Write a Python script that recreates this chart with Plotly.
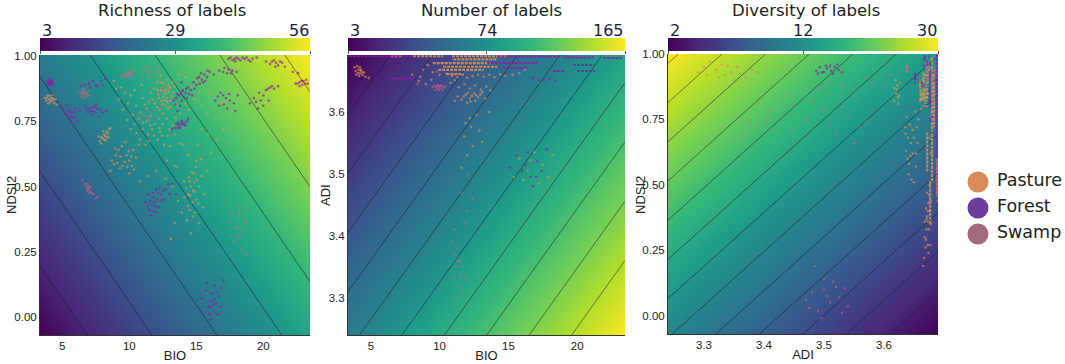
import plotly.graph_objects as go

W, H = 1065, 364

bio_edges = [3.34, 23.48]
ndsi_edges = [-0.07, 1.005]
adi_edges = [3.24, 3.692]
adi_x_edges = [3.24, 3.69]
ndsi3_edges = [-0.07, 1.0]

richness_z = [[3, 34], [25, 56]]
number_z = [[71, 165], [3, 97]]
diversity_z = [[15, 2], [30, 17]]

cbar_ticks = [[3, 29.5, 56], [3, 84, 165], [2, 16, 30]]
cbar_labels = [["3", "29", "56"], ["3", "74", "165"], ["2", "12", "30"]]
titles = ["Richness of labels", "Number of labels", "Diversity of labels"]
legend_names = ["Pasture", "Forest", "Swamp"]
legend_rows = [3, 2, 1]

# ---------- Panel 1: BIO / NDSI2 ----------
p1_pasture = [
 (3.7,.84),(3.8,.83),(3.9,.85),(4.0,.835),(4.1,.825),(4.2,.84),(4.3,.83),(4.4,.82),(4.5,.835),(4.6,.815),(3.95,.82),(4.25,.85),(3.85,.842),(4.05,.848),(4.15,.832),(4.35,.838),
 (7.8,.675),(7.9,.69),(8.0,.685),(8.1,.70),(8.2,.695),(8.3,.71),(8.4,.705),(8.5,.72),(8.6,.725),(8.1,.68),(8.3,.69),(7.9,.665),(8.25,.678),(8.45,.688),(8.05,.712),(7.7,.692),
 (9.4,.88),(9.7,.86),(10.1,.85),(10.4,.87),(10.9,.89),(9.9,.82),(10.5,.81),(11.0,.84),(11.3,.80),(11.6,.86),(11.9,.82),(12.1,.87),(12.4,.90),(12.2,.84),(12.6,.86),(12.8,.84),(13.0,.88),(12.7,.81),(13.1,.83),(13.3,.86),(12.5,.78),(12.9,.80),(12.9,.89),(12.4,.83),(12.7,.87),(13.2,.90),(12.1,.90),
 (12.35,.87),(12.55,.845),(12.75,.855),(12.95,.865),(13.15,.845),(12.45,.815),(12.65,.83),(12.85,.825),(13.05,.805),(12.25,.795),(12.05,.805),(11.75,.835),(11.45,.825),(11.15,.815),(12.15,.855),(11.85,.875),(12.55,.895),(12.85,.91),(12.35,.925),(13.35,.885),(13.55,.815),(13.45,.765),
 (11.3,.75),(11.6,.77),(11.9,.74),(12.2,.76),(12.5,.74),(12.8,.76),(13.0,.72),(11.0,.72),(11.4,.70),(11.7,.72),(12.1,.68),(12.3,.71),(10.7,.76),(10.4,.74),(10.1,.72),(10.8,.68),(11.2,.66),(12.6,.66),(13.4,.70),(13.8,.78),(14.2,.82),(14.6,.88),(15.0,.91),(14.2,.92),(15.2,.86),(13.7,.93),
 (11.55,.735),(11.85,.695),(12.25,.725),(11.05,.745),(10.55,.705),(10.85,.785),(10.25,.775),(9.85,.755),(9.55,.795),(9.25,.835),(9.05,.875),(8.85,.905),(11.45,.675),(12.45,.695),(12.85,.695),(13.25,.735),(13.05,.655),(13.75,.665),(14.05,.725),(14.45,.795),(14.85,.835),(15.45,.815),
 (8.7,.60),(9.0,.62),(9.2,.64),(9.5,.58),(9.8,.62),(10.0,.60),(10.3,.64),(10.2,.58),(10.5,.61),(10.7,.66),(9.7,.67),(9.3,.57),(10.0,.55),(8.6,.56),(9.1,.59),
 (9.35,.615),(9.65,.595),(9.95,.635),(10.15,.615),(9.45,.655),(8.95,.645),(9.85,.575),(10.35,.565),(8.85,.585),
 (12.8,.60),(13.4,.58),(14.5,.52),(14.8,.55),(14.4,.47),(14.6,.50),(14.9,.48),(15.2,.50),(14.7,.44),(15.0,.45),(14.1,.46),(14.5,.41),(14.9,.40),(15.4,.54),(15.6,.47),(14.1,.52),(13.9,.40),(14.3,.37),(14.6,.32),(13.4,.36),(13.1,.30),(15.5,.42),(15.2,.36),(15.8,.56),(15.0,.60),(16.1,.63),(16.5,.68),(17.0,.72),(16.4,.76),
 (14.55,.465),(14.75,.485),(14.85,.515),(14.45,.535),(14.65,.555),(15.05,.525),(14.25,.495),(15.15,.435),(14.35,.425),(14.75,.385),(13.65,.445),(13.55,.575),(14.95,.575),(15.35,.605),
 (14.0,.66),(15.4,.72),(13.2,.50),(12.7,.53),(12.0,.56),(11.4,.54),(10.8,.52),(15.9,.70),(15.1,.66),(14.4,.62),(16.9,.82),(16.0,.86),(15.8,.78),
]
p1_forest = [
 (4.0,.905),(4.2,.905),(4.1,.895),(4.0,.89),(4.3,.895),(4.2,.89),(3.9,.90),(4.15,.90),(4.05,.912),(4.1,.905),(4.25,.90),(4.05,.90),(3.95,.895),
 (6.4,.885),(6.7,.89),(7.1,.88),(7.3,.905),(7.6,.885),(7.9,.905),(8.2,.915),(7.5,.89),(7.0,.895),(8.0,.89),
 (5.0,.80),(5.3,.81),(5.5,.79),(5.7,.77),(5.4,.775),(5.9,.765),(6.1,.75),(5.6,.755),(6.3,.79),(5.2,.78),(6.0,.80),(5.8,.74),(5.45,.795),(5.65,.785),(5.85,.785),(5.55,.765),
 (6.7,.81),(7.0,.80),(7.3,.79),(7.6,.80),(8.0,.785),(7.2,.775),(7.7,.77),(8.3,.79),(6.9,.785),(7.5,.815),(7.1,.79),(7.4,.805),(6.85,.80),(7.25,.805),(7.45,.785),(7.85,.795),
 (13.2,.72),(13.5,.74),(13.7,.735),(13.9,.75),(14.1,.745),(14.4,.76),(13.8,.725),(14.0,.74),(14.3,.75),(13.6,.725),(13.85,.74),(14.15,.735),(13.4,.725),(13.65,.745),
 (13.3,.83),(13.5,.84),(13.7,.85),(13.9,.83),(14.0,.87),(14.2,.86),(14.4,.88),(14.6,.87),(14.8,.90),(15.0,.89),(15.2,.92),(15.4,.91),(15.6,.93),(15.8,.92),(16.0,.94),(16.3,.93),(14.7,.85),(13.8,.81),(14.3,.84),(15.5,.90),(13.6,.79),(13.9,.90),
 (13.55,.855),(13.85,.855),(14.05,.845),(14.25,.875),(14.45,.855),(15.05,.915),(15.25,.895),(15.35,.935),(15.65,.905),(15.85,.945),(14.85,.875),(13.45,.815),(13.95,.865),
 (16.7,.945),(17.0,.94),(17.4,.95),(17.7,.945),(17.1,.955),(18.0,.94),(17.6,.935),(17.3,.935),
 (16.4,.83),(16.7,.81),(17.0,.85),(17.3,.80),(17.5,.83),(17.8,.82),(17.9,.79),(17.2,.84),(16.8,.86),(18.1,.85),(16.6,.845),(17.05,.815),(17.45,.855),
 (19.0,.82),(19.3,.84),(19.6,.80),(19.8,.83),(20.0,.85),(20.2,.87),(20.5,.88),(20.8,.875),(21.1,.885),(20.0,.81),(19.7,.86),(20.4,.83),(19.45,.825),(20.65,.885),(20.35,.875),
 (17.4,.99),(17.7,.985),(18.0,.995),(18.3,.985),(18.6,.99),(18.9,.985),(19.2,.99),(19.5,.995),(17.9,.98),(17.55,.995),(17.85,.99),(18.15,.99),(18.45,.995),(18.75,.995),(19.05,.98),
 (20.2,.98),(20.5,.97),(20.8,.985),(21.1,.965),(21.4,.975),(20.9,.96),(21.6,.96),(22.2,.94),(22.6,.935),(20.65,.98),(20.95,.975),(21.25,.98),
 (22.4,.895),(22.7,.90),(23.0,.905),(23.2,.91),(22.9,.89),(23.3,.895),(22.7,.885),(22.55,.895),(22.85,.905),(23.1,.895),
 (11.2,.44),(11.4,.47),(11.5,.41),(11.7,.43),(11.8,.46),(12.0,.49),(12.1,.45),(12.2,.42),(12.4,.47),(12.6,.45),(12.7,.49),(13.0,.47),(13.2,.51),(13.5,.47),(11.6,.39),(12.0,.40),(11.9,.44),(12.9,.51),
 (11.55,.445),(11.75,.475),(11.95,.425),(12.15,.475),(11.85,.405),(12.35,.445),(12.25,.495),(11.35,.425),(12.55,.485),
 (15.4,.07),(15.7,.10),(15.9,.04),(16.1,.06),(16.2,.09),(16.3,.02),(16.4,.12),(16.5,.05),(16.7,.08),(16.9,.11),(16.6,.01),(16.8,.04),(15.8,.13),(16.0,.01),(17.0,.14),(16.1,-.01),(15.5,.01),(16.05,.035),(16.35,.065),(16.55,.095),(16.25,.045),
]
p1_swamp = [
 (9.4,.925),(9.6,.93),(9.8,.925),(10.0,.935),(10.2,.93),(10.3,.945),(10.1,.925),(9.7,.92),(9.9,.93),(10.4,.95),(10.0,.945),(9.55,.92),(9.75,.935),(9.95,.92),(10.15,.94),(9.85,.94),
 (6.2,.865),(6.4,.86),(6.5,.85),(6.6,.87),(6.7,.855),(6.8,.845),(6.9,.865),(7.0,.85),(6.6,.84),(6.5,.875),(6.45,.845),(6.65,.86),(6.85,.855),(6.55,.86),
 (6.5,.525),(6.7,.51),(6.8,.50),(6.9,.49),(7.0,.495),(7.1,.48),(7.2,.475),(7.3,.47),(7.5,.455),(7.6,.46),(6.9,.51),(7.1,.50),(7.0,.475),(6.85,.485),(6.95,.50),(7.05,.485),
 (11.0,.93),(11.3,.96),(11.5,.92),(11.8,.94),(12.2,.95),(11.6,.955),(12.0,.925),(11.15,.945),(11.4,.935),(12.05,.96),
 (10.8,.77),(11.0,.75),(11.2,.77),(11.4,.76),(11.6,.78),(11.9,.79),(12.1,.77),(11.3,.79),(11.05,.775),(11.5,.755),
 (12.2,.85),(12.5,.87),(12.8,.86),(13.0,.84),(12.6,.82),(12.3,.80),(12.45,.88),(12.7,.885),(12.95,.875),
 (17.4,.36),(17.6,.31),(17.7,.40),(17.9,.34),(18.0,.30),(18.1,.38),(18.2,.42),(18.3,.31),(18.4,.26),(18.6,.36),(18.7,.24),(18.8,.41),(17.8,.29),(18.5,.33),(18.05,.345),(18.25,.395),
 (15.6,.62),
]

# ---------- Panel 2: BIO / ADI ----------
p2_pasture = [
 (3.8,3.672),(3.9,3.666),(4.0,3.674),(4.1,3.668),(4.2,3.662),(4.3,3.668),(4.4,3.660),(4.5,3.664),(4.6,3.657),(4.85,3.655),(4.2,3.672),(3.95,3.66),(4.05,3.663),(4.25,3.667),(4.35,3.664),(4.15,3.658),
 (9.5,3.664),(10.0,3.660),(10.5,3.662),(10.9,3.658),(11.3,3.656),(11.7,3.660),(12.0,3.655),(12.4,3.658),(12.8,3.660),(13.2,3.657),(13.6,3.660),(14.0,3.656),(14.4,3.661),(14.8,3.658),(15.3,3.660),(15.8,3.663),(16.2,3.668),
 (8.0,3.660),(8.5,3.650),(9.0,3.645),(9.4,3.652),(11.4,3.640),(11.8,3.645),(12.2,3.638),(12.6,3.643),(13.0,3.636),(13.4,3.641),(13.7,3.635),(8.8,3.668),(9.1,3.676),(8.6,3.657),(10.8,3.647),(11.1,3.651),
 (11.3,3.625),(11.6,3.620),(11.9,3.628),(12.2,3.622),(12.5,3.630),(12.8,3.624),(13.1,3.632),(13.3,3.622),(12.0,3.615),(12.6,3.618),(11.1,3.618),(11.75,3.625),(12.05,3.631),(12.35,3.626),(12.65,3.627),(12.95,3.628),(12.25,3.617),
 (13.6,3.600),(12.2,3.590),(12.9,3.570),(11.8,3.560),(12.4,3.545),(12.0,3.530),(11.6,3.510),(12.7,3.595),(12.3,3.576),(11.9,3.582),(13.1,3.552),
 (15.8,3.525),(16.4,3.505),(16.9,3.535),(17.5,3.515),(17.9,3.495),(15.4,3.495),(16.1,3.490),(17.2,3.485),(16.6,3.522),(18.2,3.530),
]
p2_forest = [
 (16.8,3.655),(17.2,3.652),(17.6,3.652),(18.0,3.654),(18.4,3.651),
 (15.6,3.530),(16.2,3.515),(16.6,3.495),(17.1,3.520),(17.4,3.505),(17.8,3.540),(15.1,3.510),(16.8,3.480),(16.0,3.505),(17.0,3.495),(16.4,3.535),
]
p2_swamp = [
 (9.5,3.640),(9.7,3.635),(9.9,3.642),(10.0,3.638),(10.2,3.636),(10.4,3.641),(9.8,3.638),(10.1,3.643),(9.6,3.642),(9.75,3.641),(9.95,3.636),(10.25,3.64),(10.05,3.641),(9.85,3.644),
 (10.9,3.390),(11.1,3.370),(11.3,3.380),(11.5,3.360),(11.2,3.350),(11.4,3.340),(11.7,3.350),(11.0,3.330),(11.4,3.320),(11.6,3.310),(11.9,3.330),(11.2,3.300),(11.35,3.36),(11.55,3.335),
 (11.6,3.47),(12.1,3.50),(12.4,3.46),(12.0,3.44),(11.8,3.42),(11.1,3.41),
 (9.8,3.665),(9.2,3.675),(8.4,3.645),
]
# dense stripes, read as (ADI, from BIO, to BIO)
p2_pasture_bands = [
 (3.690,6.4,7.3),(3.690,8.07,10.25),(3.690,10.9,14.9),(3.685,11.0,14.2),
 (3.679,9.5,13.7),(3.673,10.25,14.2),(3.668,9.9,13.2),(3.661,10.5,11.7),
]
p2_forest_bands = [
 (3.690,3.4,8.0),(3.689,14.2,18.8),(3.688,19.0,21.2),(3.687,21.9,23.3),
 (3.679,13.45,17.1),(3.671,14.6,16.4),(3.676,19.7,21.2),(3.666,18.25,19.1),(3.666,20.0,21.3),
 (3.654,6.5,8.2),
]

# ---------- Panel 3: ADI / NDSI2 ----------
p3_pasture = [
 (3.617,.82),(3.62,.85),(3.622,.88),(3.625,.84),(3.627,.89),(3.619,.90),(3.624,.81),(3.617,.87),(3.621,.865),(3.623,.835),
 (3.635,.72),(3.64,.68),(3.637,.63),(3.642,.58),(3.638,.76),(3.645,.66),(3.648,.71),(3.644,.61),(3.641,.54),(3.636,.695),(3.643,.73),(3.639,.60),(3.646,.52),
 (3.652,.78),(3.655,.72),(3.65,.68),(3.648,.62),(3.653,.57),(3.65,.51),(3.656,.66),(3.654,.62),(3.657,.75),
 (3.66,.88),(3.663,.85),(3.665,.83),(3.668,.86),(3.66,.82),(3.666,.80),(3.662,.79),(3.668,.83),(3.671,.80),(3.67,.88),(3.673,.85),(3.665,.90),(3.672,.92),(3.675,.94),(3.672,.89),(3.668,.92),
 (3.664,.84),(3.667,.845),(3.669,.815),(3.671,.835),(3.662,.825),
 (3.678,.44),(3.676,.40),(3.673,.36),(3.671,.33),(3.668,.30),(3.669,.26),(3.667,.22),(3.665,.19),(3.672,.38),(3.675,.33),(3.677,.27),(3.674,.24),(3.676,.50),(3.672,.47),(3.674,.43),(3.670,.41),(3.668,.36),(3.678,.62),(3.676,.68),(3.678,.76),
 (3.675,.46),(3.673,.40),(3.671,.37),(3.678,.35),(3.67,.29),(3.673,.27),
]
p3_forest = [
 (3.668,.98),(3.672,.97),(3.678,.96),(3.682,.93),(3.684,.90),(3.667,.88),(3.675,.86),(3.676,.82),(3.68,.76),(3.679,.70),
 (3.675,.99),(3.672,.96),(3.666,.955),
 (3.487,.935),(3.493,.95),(3.50,.93),(3.505,.945),(3.512,.935),(3.518,.95),(3.525,.94),(3.53,.93),(3.51,.955),(3.497,.93),(3.503,.955),(3.515,.925),(3.49,.925),(3.522,.96),
]
p3_swamp = [
 (3.688,.56),(3.688,.52),(3.688,.48),(3.688,.44),(3.684,.99),(3.686,.93),
 (3.29,.93),(3.30,.95),(3.32,.94),(3.33,.96),(3.345,.93),(3.355,.95),(3.37,.91),(3.38,.94),(3.35,.90),(3.325,.91),(3.39,.93),(3.31,.97),(3.34,.955),(3.36,.925),(3.335,.92),(3.305,.92),
 (3.36,.76),(3.375,.74),(3.39,.72),(3.41,.78),(3.43,.76),(3.45,.80),(3.47,.75),(3.42,.70),(3.39,.81),(3.365,.69),(3.48,.82),(3.50,.78),(3.52,.70),(3.54,.76),(3.56,.72),(3.58,.79),(3.55,.66),(3.405,.74),(3.445,.71),(3.44,.84),(3.53,.80),(3.57,.74),(3.51,.73),
 (3.49,.87),(3.51,.90),(3.53,.88),(3.55,.86),(3.58,.89),(3.60,.87),(3.61,.92),(3.50,.885),(3.57,.91),
 (3.47,.06),(3.485,.19),(3.49,.02),(3.50,.10),(3.51,.05),(3.515,.13),(3.525,.07),(3.53,.01),(3.50,.14),(3.52,.11),(3.495,-.01),(3.48,.09),(3.505,.075),(3.535,.105),(3.475,.03),(3.54,.035),
]
# dense streaks, read as (ADI, from NDSI2, to NDSI2)
p3_pasture_streaks = [
 (3.661,.895,.820),(3.666,.930,.820),(3.671,.870,.820),(3.680,.985,.516),(3.677,.516,.348),(3.672,.70,.55),(3.683,.94,.72),
]
p3_forest_streaks = [
 (3.652,.926,.888),(3.663,.895,.873),(3.677,.938,.792),(3.678,.765,.742),(3.688,1.0,.60),(3.668,.995,.975),
]
p3_swamp_streaks = [
 (3.638,.957,.926),(3.689,.60,.455),(3.672,.97,.89),
]

# ---------- styles ----------
COL = {"Pasture": "#ea9650", "Forest": "#8c1fa6", "Swamp": "#ea6080"}
LEG = ["#d98c5a", "#6b3d9c", "#a5697c"]
INK = "#1a1f3d"
AXIS_FONT = dict(family="Liberation Sans, Arial, sans-serif", size=11.5, color="#222")

panels = [
    dict(px=(40, 310), py=(55, 335), xr=bio_edges, yr=ndsi_edges, z=richness_z,
         lev=(8.4, 53.2, 7.45), pts=(p1_pasture, p1_forest, p1_swamp),
         xt="BIO", yt="NDSI2", xv=[5, 10, 15, 20], yv=[0, .25, .5, .75, 1],
         yf=".2f", ytx=11),
    dict(px=(348, 625), py=(55, 335), xr=bio_edges, yr=adi_edges, z=number_z,
         lev=(17.3, 160, 14.4), pts=(p2_pasture, p2_forest, p2_swamp),
         xt="BIO", yt="ADI", xv=[5, 10, 15, 20], yv=[3.3, 3.4, 3.5, 3.6],
         yf=".1f", ytx=325),
    dict(px=(668, 938), py=(54, 334), xr=adi_x_edges, yr=ndsi3_edges, z=diversity_z,
         lev=(2.2, 29.6, 2.1), pts=(p3_pasture, p3_forest, p3_swamp),
         xt="ADI", yt="NDSI2", xv=[3.3, 3.4, 3.5, 3.6], yv=[0, .25, .5, .75, 1],
         yf=".2f", ytx=640),
]
title_cx = [172, 491, 806]


def band_trace(rows, name, width, horizontal, xa, ya, op):
    xs, ys = [], []
    for v, a, b in rows:
        if horizontal:
            xs += [a, b, None]
            ys += [v, v, None]
        else:
            xs += [v, v, None]
            ys += [a, b, None]
    return go.Scatter(x=xs, y=ys, xaxis=xa, yaxis=ya, mode="lines", name=name,
                      showlegend=False, hoverinfo="skip", opacity=op,
                      line=dict(width=width, color=COL[name], dash="3px,1px"))


fig = go.Figure()
ann = []
layout = {}
for i, p in enumerate(panels):
    n = i + 1
    xa, ya = f"x{n}", f"y{n}"
    zmin, zmax = cbar_ticks[i][0], cbar_ticks[i][2]
    fig.add_trace(go.Heatmap(
        x=p["xr"], y=p["yr"], z=p["z"], xaxis=xa, yaxis=ya, zsmooth="best",
        colorscale="Viridis", zmin=zmin, zmax=zmax, hoverinfo="skip",
        colorbar=dict(
            orientation="h", x=p["px"][0] / W, xanchor="left", xpad=0,
            y=(H - 38) / H, yanchor="top", ypad=0, thickness=13,
            thicknessmode="pixels", len=p["px"][1] - p["px"][0], lenmode="pixels",
            outlinewidth=0, tickvals=cbar_ticks[i], ticktext=cbar_labels[i],
            showticklabels=False, ticks="outside", ticklen=3, tickcolor="#555",
            ticklabelposition="outside top",
        ),
    ))
    fig.add_trace(go.Contour(
        x=p["xr"], y=p["yr"], z=p["z"], xaxis=xa, yaxis=ya, showscale=False,
        autocontour=False, hoverinfo="skip",
        contours=dict(start=p["lev"][0], end=p["lev"][1], size=p["lev"][2],
                      coloring="lines", showlabels=False),
        line=dict(width=0.7, color="#1c1c2a"), colorscale=[[0, "#1c1c2a"], [1, "#1c1c2a"]],
        opacity=0.8,
    ))
    if i == 1:
        fig.add_trace(band_trace(p2_pasture_bands, "Pasture", 2.2, True, xa, ya, .8))
        fig.add_trace(band_trace(p2_forest_bands, "Forest", 2, True, xa, ya, .85))
    if i == 2:
        fig.add_trace(band_trace(p3_pasture_streaks, "Pasture", 2.2, False, xa, ya, .75))
        fig.add_trace(band_trace(p3_forest_streaks, "Forest", 2.2, False, xa, ya, .85))
        fig.add_trace(band_trace(p3_swamp_streaks, "Swamp", 3, False, xa, ya, .8))
    for name, pts, op in zip(legend_names, p["pts"], (0.6, 0.7, 0.45)):
        fig.add_trace(go.Scatter(
            x=[q[0] for q in pts], y=[q[1] for q in pts], xaxis=xa, yaxis=ya,
            mode="markers", name=name, showlegend=False, hoverinfo="skip",
            marker=dict(size=2.6, color=COL[name], opacity=op, line=dict(width=0)),
        ))
    layout[f"xaxis{n}"] = dict(
        domain=[p["px"][0] / W, p["px"][1] / W], range=p["xr"], anchor=ya,
        tickvals=p["xv"], showgrid=False, zeroline=False, showline=True,
        linecolor="#333", linewidth=1, ticks="", tickfont=AXIS_FONT,
        title=dict(text=p["xt"], font=dict(AXIS_FONT, size=13), standoff=0),
    )
    layout[f"yaxis{n}"] = dict(
        domain=[(H - p["py"][1]) / H, (H - p["py"][0]) / H], range=p["yr"], anchor=xa,
        tickvals=p["yv"], tickformat=p["yf"], showgrid=False, zeroline=False,
        showline=True, linecolor="#333", linewidth=1, ticks="", tickfont=AXIS_FONT,
    )
    ann.append(dict(text=p["yt"], x=p["ytx"] / W, y=(H - 195) / H, textangle=-90,
                    showarrow=False, xref="paper", yref="paper", xanchor="center",
                    yanchor="middle", font=dict(AXIS_FONT, size=13)))
    ann.append(dict(text=titles[i], x=title_cx[i] / W, y=1, showarrow=False,
                    xref="paper", yref="paper", xanchor="center", yanchor="top",
                    borderpad=0, font=dict(family="DejaVu Sans", size=16.5, color="#222")))
    lab_x = [p["px"][0] + 1, (p["px"][0] + p["px"][1]) / 2, p["px"][1]]
    for t, lx, anc in zip(cbar_labels[i], lab_x, ("left", "center", "right")):
        ann.append(dict(text=t, x=lx / W, y=(H - 30) / H, showarrow=False, xref="paper",
                        yref="paper", xanchor=anc, yanchor="middle", borderpad=0,
                        font=dict(family="DejaVu Sans", size=16, color=INK)))

# legend drawn in its own small axes
fig.add_trace(go.Scatter(x=[0.171] * 3, y=legend_rows, xaxis="x4", yaxis="y4", mode="markers",
                         showlegend=False, hoverinfo="skip",
                         marker=dict(size=21, color=LEG, line=dict(width=0))))
fig.add_trace(go.Scatter(x=[0.352] * 3, y=legend_rows, xaxis="x4", yaxis="y4", mode="text",
                         text=legend_names, textposition="middle right", showlegend=False,
                         hoverinfo="skip",
                         textfont=dict(family="DejaVu Sans", size=17.5, color="#222")))
layout["xaxis4"] = dict(domain=[960 / W, 1], range=[0, 1], visible=False, anchor="y4")
layout["yaxis4"] = dict(domain=[(H - 247) / H, (H - 169) / H], range=[0.5, 3.5],
                        visible=False, anchor="x4")

fig.update_layout(
    width=W, height=H, margin=dict(l=0, r=0, t=0, b=0, pad=0, autoexpand=False),
    paper_bgcolor="white", plot_bgcolor="white", annotations=ann, showlegend=False,
    **layout,
)
fig.write_html("out.html", config={"displayModeBar": False},
               post_script="document.body.style.margin='0';document.documentElement.style.overflow='hidden';")
